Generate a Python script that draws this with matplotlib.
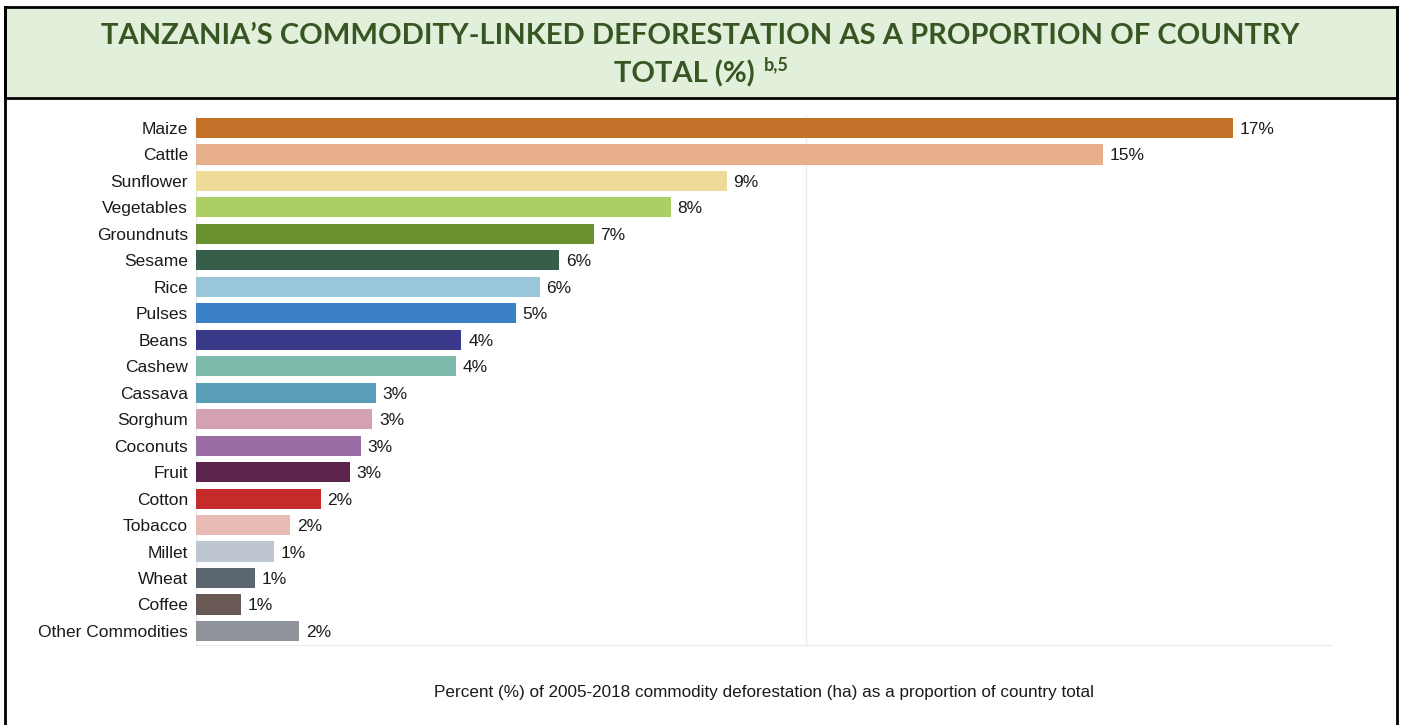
import matplotlib.pyplot as plt
from matplotlib.patches import Rectangle
from matplotlib.lines import Line2D

# data
commodities = ['Maize', 'Cattle', 'Sunflower', 'Vegetables', 'Groundnuts', 'Sesame',
               'Rice', 'Pulses', 'Beans', 'Cashew', 'Cassava', 'Sorghum', 'Coconuts',
               'Fruit', 'Cotton', 'Tobacco', 'Millet', 'Wheat', 'Coffee', 'Other Commodities']
shares = [17.01, 14.88, 8.70, 7.78, 6.52, 5.95, 5.63, 5.24, 4.35, 4.26, 2.94, 2.89, 2.70,
          2.52, 2.04, 1.54, 1.28, 0.96, 0.74, 1.69]
colors = ['#C4722A', '#E8B08A', '#EEDB98', '#ABCF62', '#69922F', '#365E48', '#98C7DB',
          '#3A80C6', '#3B3A8A', '#7FBBAC', '#5A9DB8', '#D4A0B4', '#9B6DA4', '#5C234D',
          '#C42B2A', '#E8BBB5', '#BEC7D1', '#5C6670', '#695955', '#8F949A']

W, H = 1403, 725
fig = plt.figure(figsize=(W / 100, H / 100), dpi=100)

# header band
fig.patches.append(Rectangle((5 / W, 1 - 98 / H), (1397 - 5) / W, 91 / H,
                             transform=fig.transFigure, facecolor='#E2EFDA',
                             edgecolor='black', linewidth=2, zorder=0))
fig.lines.append(Line2D([5 / W, 5 / W], [0, 1 - 7 / H], transform=fig.transFigure,
                        color='black', linewidth=2))
fig.lines.append(Line2D([1397 / W, 1397 / W], [0, 1 - 7 / H], transform=fig.transFigure,
                        color='black', linewidth=2))

title_kw = dict(fontsize=21, weight='bold', color='#375623', family='Lato')
fig.text(700 / W, 1 - 36 / H, 'TANZANIA\u2019S COMMODITY-LINKED DEFORESTATION AS A PROPORTION OF COUNTRY',
         ha='center', va='center', **title_kw)
t2 = fig.text(0, 1 - 74 / H, 'TOTAL (%)', ha='left', va='center', **title_kw)
t3 = fig.text(0, 1 - 65 / H, 'b,5', ha='left', va='center',
              fontsize=13, weight='bold', color='#375623', family='Lato')
r = fig.canvas.get_renderer()
w2 = t2.get_window_extent(r).width
w3 = t3.get_window_extent(r).width
gap = 9
x0 = 701 - (w2 + gap + w3) / 2
t2.set_x(x0 / W)
t3.set_x((x0 + w2 + gap) / W)

# bar chart
ax = fig.add_axes([196.3 / W, 1 - 645 / H, (1332 - 196.3) / W, (645 - 115) / H])
y = list(range(len(commodities)))
ax.barh(y, shares, height=0.76, color=colors, zorder=2)
ax.set_xlim(0, 18.63)
ax.set_ylim(len(commodities) - 1 + 0.53, -0.49)

ax.set_yticks(y)
ax.set_yticklabels(commodities, fontsize=12.5, family='Liberation Sans', color='#1a1a1a')
ax.tick_params(axis='y', length=0, pad=6)
ax.set_xticks([0, 10])
ax.set_xticklabels([])
ax.tick_params(axis='x', length=0)
ax.grid(axis='x', color='#ebebeb', linewidth=1)
ax.set_axisbelow(True)
for s in ['top', 'right', 'left']:
    ax.spines[s].set_visible(False)
ax.spines['bottom'].set_color('#ebebeb')

for i, v in enumerate(shares):
    ax.text(v + 0.11, i, f'{v:.0f}%', va='center_baseline', ha='left', fontsize=12.5,
            family='Liberation Sans', color='#1a1a1a')

fig.text(764 / W, 1 - 692 / H,
         'Percent (%) of 2005-2018 commodity deforestation (ha) as a proportion of country total',
         ha='center', va='center', fontsize=12.35, family='Liberation Sans', color='#1a1a1a')

fig.savefig('out.png', dpi=100)
